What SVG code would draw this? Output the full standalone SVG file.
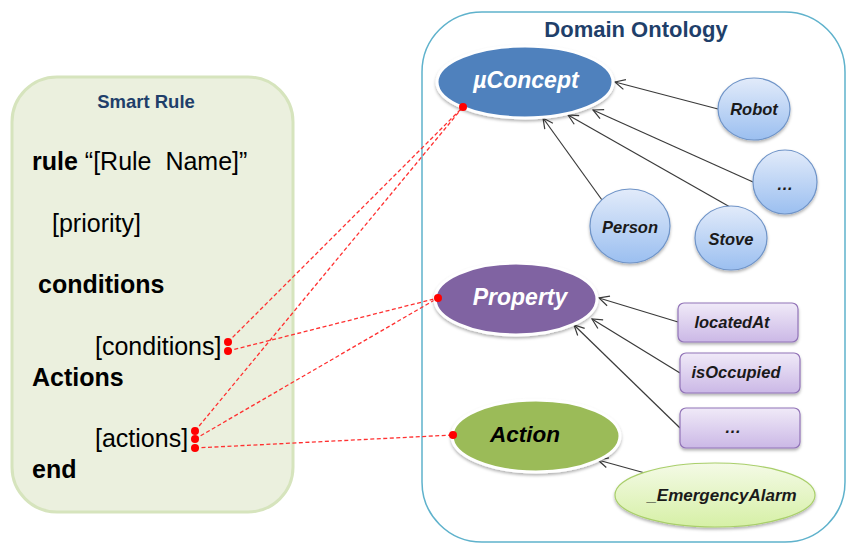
<svg xmlns="http://www.w3.org/2000/svg" width="846" height="544" viewBox="0 0 846 544">
<defs>
<style>
.t{font-family:"Liberation Sans",Arial,sans-serif;}
.code{font-size:25px;fill:#000;white-space:pre;}
.b{font-weight:bold;}
.lbl{font-family:"Liberation Sans",Arial,sans-serif;font-weight:bold;font-style:italic;text-anchor:middle;}
.small{font-size:16.5px;fill:#1a1a1a;}
.arrow{stroke:#3a3a3a;stroke-width:1.2;fill:none;marker-end:url(#ah);}
.red{stroke:#ff3030;stroke-width:1.3;stroke-dasharray:4 2.5;fill:none;}
.dot{fill:#ff0000;}
.circ{fill:url(#gBlue);stroke:#6f94c8;stroke-width:1.2;filter:url(#sh);}
.prop{fill:url(#gPurple);stroke:#9274b8;stroke-width:1.2;filter:url(#sh);}
</style>
<linearGradient id="gBlue" x1="0" y1="0" x2="0" y2="1">
<stop offset="0" stop-color="#e2ebfa"/>
<stop offset="1" stop-color="#9bbff0"/>
</linearGradient>
<linearGradient id="gPurple" x1="0" y1="0" x2="0" y2="1">
<stop offset="0" stop-color="#f0eaf8"/>
<stop offset="1" stop-color="#cbb8e6"/>
</linearGradient>
<linearGradient id="gGreen" x1="0" y1="0" x2="0" y2="1">
<stop offset="0" stop-color="#f4fae6"/>
<stop offset="1" stop-color="#d6f0a6"/>
</linearGradient>
<filter id="sh" x="-20%" y="-20%" width="140%" height="150%">
<feDropShadow dx="0" dy="2" stdDeviation="1.5" flood-color="#000" flood-opacity="0.3"/>
</filter>
<marker id="ah" viewBox="0 0 12 12" refX="11" refY="6" markerWidth="12" markerHeight="12" markerUnits="userSpaceOnUse" orient="auto">
<path d="M1,1 L11,6 L1,11" fill="none" stroke="#3a3a3a" stroke-width="1.2"/>
</marker>
</defs>

<g id="smart-rule">
<rect x="12" y="77" width="281" height="435" rx="45" fill="#ebf0de" stroke="#d6e4bd" stroke-width="3"/>
<text class="t b" x="146" y="108" font-size="18.5" fill="#1f3f6a" text-anchor="middle">Smart Rule</text>
<text class="t code" x="32" y="170" xml:space="preserve"><tspan class="b">rule</tspan> “[Rule  Name]”</text>
<text class="t code" x="52" y="232">[priority]</text>
<text class="t code b" x="38" y="293">conditions</text>
<text class="t code" x="95" y="355">[conditions]</text>
<text class="t code b" x="32" y="386">Actions</text>
<text class="t code" x="95" y="447">[actions]</text>
<text class="t code b" x="32" y="478">end</text>
</g>

<g id="domain-ontology">
<rect x="422" y="12" width="423" height="530" rx="60" fill="#fff" stroke="#5fb2cc" stroke-width="1.5"/>
<text class="t b" x="636" y="37" font-size="22" fill="#1f3f6a" text-anchor="middle">Domain Ontology</text>
</g>

<g id="connectors">
<line class="arrow" x1="718" y1="109" x2="615" y2="82"/>
<line class="arrow" x1="753" y1="182" x2="593" y2="110"/>
<line class="arrow" x1="730" y1="207" x2="568" y2="115"/>
<line class="arrow" x1="602" y1="200" x2="543" y2="118"/>
<line class="arrow" x1="678" y1="322" x2="599" y2="298"/>
<line class="arrow" x1="680" y1="373" x2="592" y2="319"/>
<line class="arrow" x1="680" y1="428" x2="574" y2="325"/>
<line class="arrow" x1="645" y1="473" x2="598" y2="460"/>
<line class="red" x1="228" y1="342" x2="463" y2="107"/>
<line class="red" x1="228" y1="351" x2="438" y2="298"/>
<line class="red" x1="195" y1="431" x2="463" y2="107"/>
<line class="red" x1="195" y1="439" x2="438" y2="298"/>
<line class="red" x1="195" y1="448" x2="453" y2="435"/>
</g>

<g id="uconcept">
<ellipse cx="525" cy="82" rx="88" ry="36" fill="#4f81bd" stroke="#fff" stroke-width="3" filter="url(#sh)"/>
<text class="lbl" x="526" y="88" font-size="23" fill="#fff">µConcept</text>
</g>
<g id="robot">
<ellipse class="circ" cx="754" cy="109" rx="36" ry="31"/>
<text class="lbl small" x="754" y="115">Robot</text>
</g>
<g id="more-concepts">
<ellipse class="circ" cx="785" cy="182" rx="32" ry="32"/>
<text class="lbl small" x="785" y="190">…</text>
</g>
<g id="person">
<ellipse class="circ" cx="630" cy="226" rx="40" ry="37"/>
<text class="lbl small" x="630" y="233">Person</text>
</g>
<g id="stove">
<ellipse class="circ" cx="731" cy="238" rx="36" ry="32"/>
<text class="lbl small" x="731" y="245">Stove</text>
</g>

<g id="property">
<ellipse cx="516" cy="299" rx="81" ry="36" fill="#8064a2" stroke="#fff" stroke-width="3" filter="url(#sh)"/>
<text class="lbl" x="520" y="305" font-size="23" fill="#fff">Property</text>
</g>
<g id="locatedAt">
<rect class="prop" x="678" y="303" width="120" height="39" rx="6"/>
<text class="lbl small" x="732" y="328">locatedAt</text>
</g>
<g id="isOccupied">
<rect class="prop" x="680" y="353" width="120" height="40" rx="6"/>
<text class="lbl small" x="736" y="378">isOccupied</text>
</g>
<g id="more-properties">
<rect class="prop" x="680" y="408" width="120" height="40" rx="6"/>
<text class="lbl small" x="733" y="433">…</text>
</g>

<g id="action">
<ellipse cx="536" cy="436" rx="84" ry="36" fill="#9bbb59" stroke="#fff" stroke-width="3" filter="url(#sh)"/>
<text class="lbl" x="525" y="442" font-size="22.5" fill="#000">Action</text>
</g>
<g id="emergency-alarm">
<ellipse cx="715" cy="495" rx="100" ry="32" fill="url(#gGreen)" stroke="#a9cf6a" stroke-width="1.2" filter="url(#sh)"/>
<text class="lbl" x="722" y="501" font-size="17" fill="#1a1a1a">_EmergencyAlarm</text>
</g>

<g id="link-dots">
<circle class="dot" cx="463" cy="107" r="4"/>
<circle class="dot" cx="438" cy="298" r="4"/>
<circle class="dot" cx="453" cy="435" r="4"/>
<circle class="dot" cx="228" cy="342" r="4"/>
<circle class="dot" cx="228" cy="351" r="4"/>
<circle class="dot" cx="195" cy="431" r="4"/>
<circle class="dot" cx="195" cy="439" r="4"/>
<circle class="dot" cx="195" cy="448" r="4"/>
</g>
</svg>
